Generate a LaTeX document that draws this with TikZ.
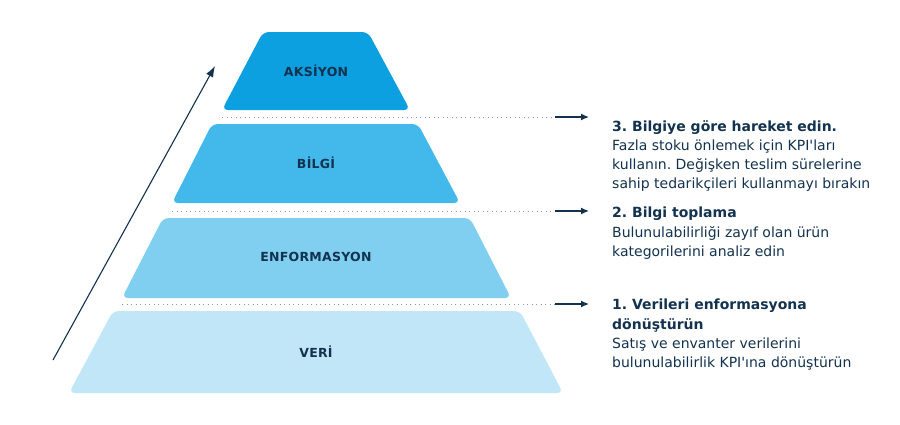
\documentclass[tikz,border=0pt]{standalone}
\usepackage{fontspec}
\setmainfont{DejaVu Sans}
\usetikzlibrary{arrows.meta}
\definecolor{navy}{HTML}{12324F}
\definecolor{aksiyoncol}{HTML}{0CA0E1}
\definecolor{bilgicol}{HTML}{42B9EA}
\definecolor{enfocol}{HTML}{80CFF0}
\definecolor{vericol}{HTML}{C1E6F7}
\tikzset{level/.style={rounded corners=6pt}}
\tikzset{lbl/.style={font=\fontsize{12.5}{14}\selectfont\bfseries\addfontfeatures{LetterSpace=2}, text=navy}}
\tikzset{guide/.style={draw=navy!50, dash pattern=on 1pt off 3.5pt, line width=1pt}}
\tikzset{pointer/.style={draw=navy, -{Latex[length=8pt,width=7pt]}, line width=1.3pt}}
\tikzset{step text/.style={anchor=north west, align=left, text=navy, inner sep=0pt,
  font=\fontsize{14}{19.2}\selectfont}}

\begin{document}
\frenchspacing
\begin{tikzpicture}[x=1pt,y=-1pt]
\useasboundingbox (0,0) rectangle (900,424);
% pyramid
\fill[level, aksiyoncol] (222,110) -- (263,32) -- (368,32) -- (410,110) -- cycle;
\fill[level, bilgicol] (172,203) -- (212,124) -- (418,124) -- (460,203) -- cycle;
\fill[level, enfocol] (122,298) -- (163,218) -- (470,218) -- (511,298) -- cycle;
\fill[level, vericol] (69,393) -- (113,311) -- (520,311) -- (563,393) -- cycle;
\node[lbl] (aksiyon) at (316,71) {AKSİYON};
\node[lbl] (bilgi) at (316,163) {BİLGİ};
\node[lbl] (enfo) at (316,257) {ENFORMASYON};
\node[lbl] (veri) at (316,352) {VERİ};
% rising arrow
\coordinate (rise0) at (53,360);
\coordinate (rise1) at (215,66);
\draw[navy, -{Latex[length=11pt,width=8pt]}, line width=1.1pt] (rise0) -- (rise1);
% steps
\node[step text] (step3) at (612,120) {\textbf{3. Bilgiye göre hareket edin.}\\
  Fazla stoku önlemek için KPI\textquotesingle ları\\
  kullanın. Değişken teslim sürelerine\\
  sahip tedarikçileri kullanmayı bırakın};
\node[step text] (step2) at (612,207) {\textbf{2. Bilgi toplama}\\
  Bulunulabilirliği zayıf olan ürün\\
  kategorilerini analiz edin};
\node[step text] (step1) at (612,299) {\textbf{1. Verileri enformasyona}\\
  \textbf{dönüştürün}\\
  Satış ve envanter verilerini\\
  bulunulabilirlik KPI\textquotesingle ına dönüştürün};
\coordinate (g3a) at (222,117);
\coordinate (g3b) at (555,117);
\coordinate (g3c) at (589,117);
\coordinate (g2a) at (172,211);
\coordinate (g2b) at (555,211);
\coordinate (g2c) at (589,211);
\coordinate (g1a) at (122,304);
\coordinate (g1b) at (555,304);
\coordinate (g1c) at (589,304);
\draw[guide] (g3a) -- (g3b);
\draw[pointer] (g3b) -- (g3c);
\draw[guide] (g2a) -- (g2b);
\draw[pointer] (g2b) -- (g2c);
\draw[guide] (g1a) -- (g1b);
\draw[pointer] (g1b) -- (g1c);
\end{tikzpicture}
\end{document}
